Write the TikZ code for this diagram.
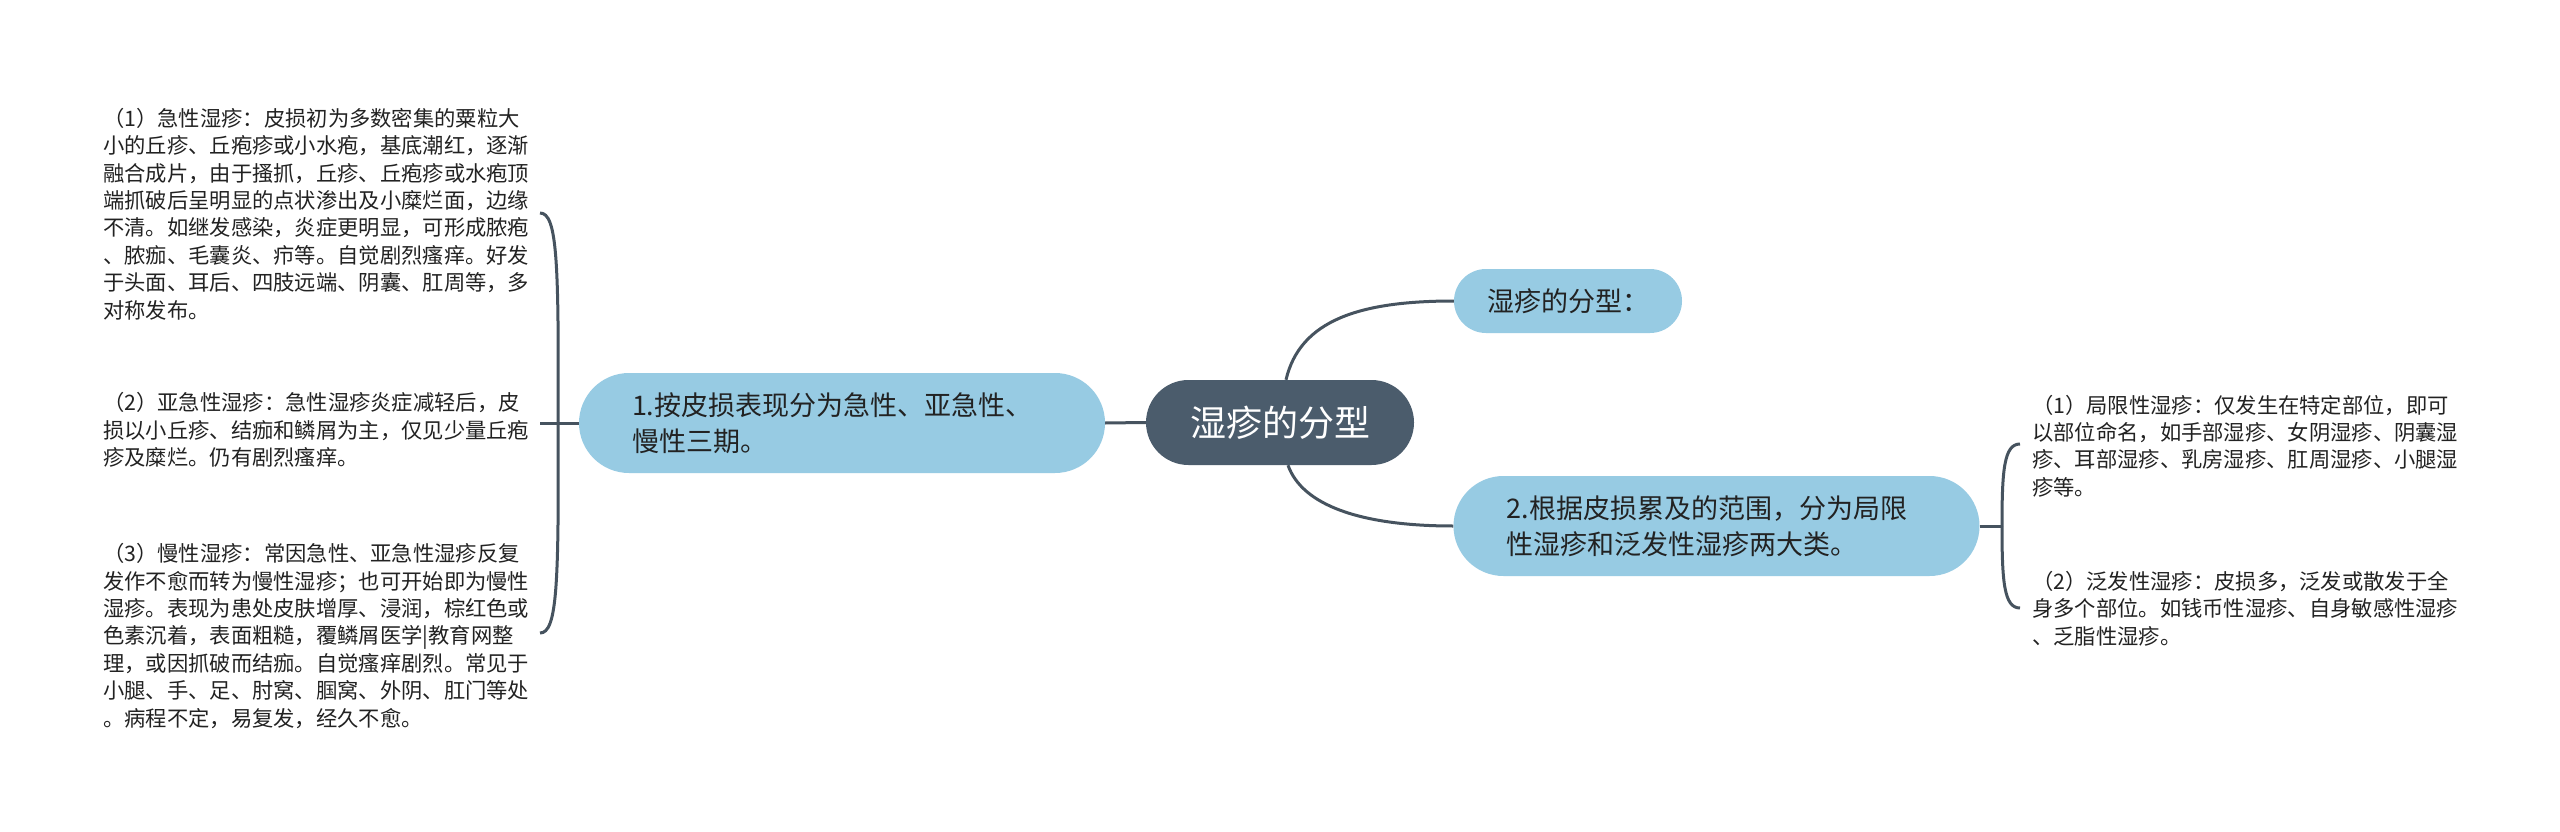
\documentclass[tikz,border=0pt]{standalone}
\usepackage{fontspec}
\setmainfont{Noto Sans CJK SC}
\usetikzlibrary{backgrounds}
\definecolor{linec}{HTML}{46535F}
\definecolor{rootc}{HTML}{4B5C6C}
\definecolor{bluec}{HTML}{97CBE3}
\definecolor{txtc}{HTML}{222222}
\begin{document}
\begin{tikzpicture}[x=1pt,y=-1pt,
  conn/.style={draw=linec,line width=3pt},
  rootnode/.style={fill=rootc,text=white,rounded corners=42.5pt,minimum width=268pt,minimum height=85pt,inner sep=0pt,font=\fontsize{36}{40}\selectfont},
  topicnode/.style={fill=bluec,text=txtc,rounded corners=50pt,minimum height=100pt,inner xsep=53pt,inner ysep=0pt,text width=420pt,align=left,font=\fontsize{27}{36}\selectfont},
  smalltopic/.style={fill=bluec,text=txtc,rounded corners=32pt,minimum width=228pt,minimum height=64pt,inner sep=0pt,font=\fontsize{27}{32}\selectfont},
  leaf/.style={text=txtc,align=left,inner sep=0pt,anchor=west,font=\fontsize{21.3}{27.4}\selectfont}]
\useasboundingbox (0,0) rectangle (2560,832);

\node[rootnode] (root) at (1280,422.5) {湿疹的分型};
\node[topicnode] (L) at (842,423) {1.按皮损表现分为急性、亚急性、\\慢性三期。};
\node[smalltopic] (R1) at (1568,301) {湿疹的分型：};
\node[topicnode] (R2) at (1716.5,526) {2.根据皮损累及的范围，分为局限\\性湿疹和泛发性湿疹两大类。};

\node[leaf] (L1) at (103,214) {（1）急性湿疹：皮损初为多数密集的粟粒大\\小的丘疹、丘疱疹或小水疱，基底潮红，逐渐\\融合成片，由于搔抓，丘疹、丘疱疹或水疱顶\\端抓破后呈明显的点状渗出及小糜烂面，边缘\\不清。如继发感染，炎症更明显，可形成脓疱\\、脓痂、毛囊炎、疖等。自觉剧烈瘙痒。好发\\于头面、耳后、四肢远端、阴囊、肛周等，多\\对称发布。};
\node[leaf] (L2) at (103,430) {（2）亚急性湿疹：急性湿疹炎症减轻后，皮\\损以小丘疹、结痂和鳞屑为主，仅见少量丘疱\\疹及糜烂。仍有剧烈瘙痒。};
\node[leaf] (L3) at (103,636) {（3）慢性湿疹：常因急性、亚急性湿疹反复\\发作不愈而转为慢性湿疹；也可开始即为慢性\\湿疹。表现为患处皮肤增厚、浸润，棕红色或\\色素沉着，表面粗糙，覆鳞屑医学|教育网整\\理，或因抓破而结痂。自觉瘙痒剧烈。常见于\\小腿、手、足、肘窝、腘窝、外阴、肛门等处\\。病程不定，易复发，经久不愈。};
\node[leaf] (R21) at (2032,446) {（1）局限性湿疹：仅发生在特定部位，即可\\以部位命名，如手部湿疹、女阴湿疹、阴囊湿\\疹、耳部湿疹、乳房湿疹、肛周湿疹、小腿湿\\疹等。};
\node[leaf] (R22) at (2032,608.5) {（2）泛发性湿疹：皮损多，泛发或散发于全\\身多个部位。如钱币性湿疹、自身敏感性湿疹\\、乏脂性湿疹。};

\coordinate (JL) at (558,423);
\coordinate (L1e) at (540,213);
\coordinate (L2e) at (540,423);
\coordinate (L3e) at (540,633);
\coordinate (JR) at (2002,526);
\coordinate (R21e) at (2020,444);
\coordinate (R22e) at (2020,608);

\begin{scope}[on background layer]
\fill[white] (0,0) rectangle (2560,832);
\draw[conn] (L.east) -- (root.west);
\draw[conn] ([xshift=6pt]root.north) .. controls (1300,320) and (1360,301) .. (R1.west);
\draw[conn] ([xshift=8pt]root.south) .. controls (1302,505) and (1360,526) .. (R2.west);
\draw[conn] (L.west) -- (JL);
\draw[conn] (JL) .. controls (559,260) and (557,213) .. (L1e);
\draw[conn] (JL) -- (L2e);
\draw[conn] (JL) .. controls (559,586) and (557,633) .. (L3e);
\draw[conn] (R2.east) -- (JR);
\draw[conn] (JR) .. controls (2002,470) and (2004,444) .. (R21e);
\draw[conn] (JR) .. controls (2002,582) and (2004,608) .. (R22e);
\end{scope}
\end{tikzpicture}
\end{document}
